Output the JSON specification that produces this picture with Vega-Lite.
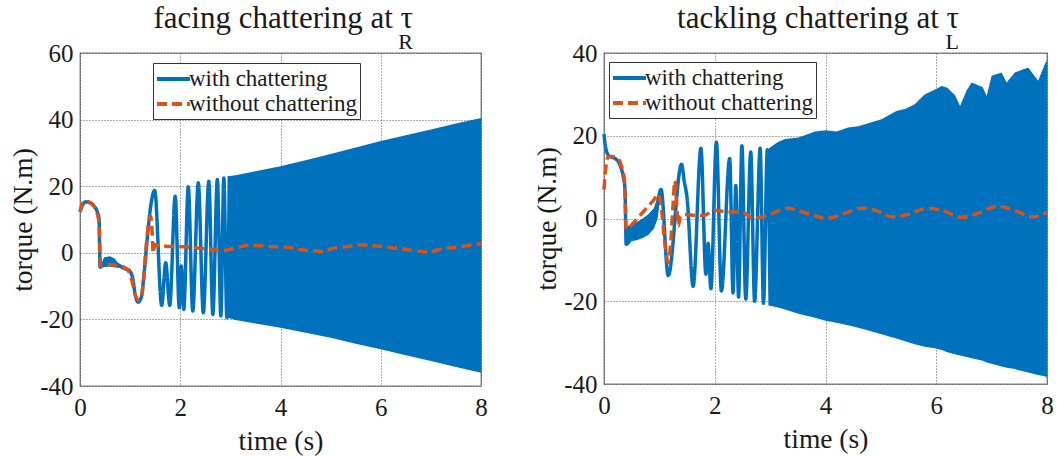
{
  "$schema": "https://vega.github.io/schema/vega-lite/v6.json",
  "padding": {"left": 9, "top": 2, "right": 5, "bottom": 0},
  "background": "white",
  "spacing": 123,
  "bounds": "flush",
  "datasets": {
    "Llines": [
      {"t":0,"v":12.3,"s":"with chattering"},{"t":0.05,"v":14.3,"s":"with chattering"},{"t":0.12,"v":15.3,"s":"with chattering"},{"t":0.2,"v":15,"s":"with chattering"},{"t":0.28,"v":14,"s":"with chattering"},{"t":0.34,"v":12.5,"s":"with chattering"},{"t":0.38,"v":10,"s":"with chattering"},{"t":0.4,"v":-4.3,"s":"with chattering"},{"t":0.5,"v":-2.8,"s":"with chattering"},{"t":0.6,"v":-2.6,"s":"with chattering"},{"t":0.7,"v":-3,"s":"with chattering"},{"t":0.8,"v":-4,"s":"with chattering"},{"t":0.9,"v":-4.8,"s":"with chattering"},{"t":0.98,"v":-5.3,"s":"with chattering"},{"t":1.05,"v":-7.5,"s":"with chattering"},{"t":1.1,"v":-12.5,"s":"with chattering"},{"t":1.16,"v":-14.8,"s":"with chattering"},{"t":1.22,"v":-13.5,"s":"with chattering"},{"t":1.28,"v":-6,"s":"with chattering"},{"t":1.34,"v":4,"s":"with chattering"},{"t":1.42,"v":15,"s":"with chattering"},{"t":1.49,"v":18.7,"s":"with chattering"},{"t":1.63,"v":-15.8,"s":"with chattering"},{"t":1.71,"v":-3,"s":"with chattering"},{"t":1.79,"v":-15.8,"s":"with chattering"},{"t":1.9,"v":17,"s":"with chattering"},{"t":1.98,"v":-16.5,"s":"with chattering"},{"t":2.02,"v":-4,"s":"with chattering"},{"t":2.07,"v":-17,"s":"with chattering"},{"t":2.16,"v":19.8,"s":"with chattering"},{"t":2.25,"v":-17.5,"s":"with chattering"},{"t":2.36,"v":21,"s":"with chattering"},{"t":2.46,"v":-18,"s":"with chattering"},{"t":2.57,"v":21.5,"s":"with chattering"},{"t":2.65,"v":-18.5,"s":"with chattering"},{"t":2.74,"v":22,"s":"with chattering"},{"t":2.81,"v":-19,"s":"with chattering"},{"t":2.87,"v":22.5,"s":"with chattering"},{"t":2.93,"v":-19.5,"s":"with chattering"},{"t":2.98,"v":23,"s":"with chattering"},
      {"t":0,"v":12.3,"s":"without chattering"},{"t":0.05,"v":14.8,"s":"without chattering"},{"t":0.12,"v":15.5,"s":"without chattering"},{"t":0.2,"v":15.1,"s":"without chattering"},{"t":0.28,"v":14,"s":"without chattering"},{"t":0.34,"v":12,"s":"without chattering"},{"t":0.38,"v":9,"s":"without chattering"},{"t":0.41,"v":-3.8,"s":"without chattering"},{"t":0.5,"v":-3.5,"s":"without chattering"},{"t":0.6,"v":-3.5,"s":"without chattering"},{"t":0.7,"v":-3.7,"s":"without chattering"},{"t":0.8,"v":-4,"s":"without chattering"},{"t":0.9,"v":-4.5,"s":"without chattering"},{"t":0.97,"v":-5.5,"s":"without chattering"},{"t":1.03,"v":-8,"s":"without chattering"},{"t":1.1,"v":-12.5,"s":"without chattering"},{"t":1.17,"v":-14.2,"s":"without chattering"},{"t":1.22,"v":-13.5,"s":"without chattering"},{"t":1.27,"v":-8,"s":"without chattering"},{"t":1.31,"v":0,"s":"without chattering"},{"t":1.36,"v":8,"s":"without chattering"},{"t":1.41,"v":11,"s":"without chattering"},{"t":1.44,"v":6,"s":"without chattering"},{"t":1.46,"v":0,"s":"without chattering"},{"t":1.49,"v":2.5,"s":"without chattering"},{"t":1.55,"v":2.2,"s":"without chattering"},{"t":1.7,"v":2,"s":"without chattering"},{"t":1.9,"v":1.9,"s":"without chattering"},{"t":2.1,"v":1.8,"s":"without chattering"},{"t":2.3,"v":1.5,"s":"without chattering"},{"t":2.5,"v":1.2,"s":"without chattering"},{"t":2.68,"v":0.9,"s":"without chattering"},{"t":2.81,"v":0.6,"s":"without chattering"},{"t":3.07,"v":1.3,"s":"without chattering"},{"t":3.34,"v":2.2,"s":"without chattering"},{"t":3.61,"v":2.1,"s":"without chattering"},{"t":3.87,"v":1.8,"s":"without chattering"},{"t":4.14,"v":1.7,"s":"without chattering"},{"t":4.41,"v":0.9,"s":"without chattering"},{"t":4.67,"v":0.6,"s":"without chattering"},{"t":4.81,"v":0.4,"s":"without chattering"},{"t":5.07,"v":1.4,"s":"without chattering"},{"t":5.34,"v":1.9,"s":"without chattering"},{"t":5.6,"v":2.4,"s":"without chattering"},{"t":5.87,"v":2.1,"s":"without chattering"},{"t":6.14,"v":1.7,"s":"without chattering"},{"t":6.4,"v":1.2,"s":"without chattering"},{"t":6.67,"v":0.7,"s":"without chattering"},{"t":6.94,"v":0.2,"s":"without chattering"},{"t":7.2,"v":1.1,"s":"without chattering"},{"t":7.47,"v":1.6,"s":"without chattering"},{"t":7.73,"v":2.2,"s":"without chattering"},{"t":8,"v":2.7,"s":"without chattering"}
    ],
    "Lband": [
      {"seg":"a","t":0.42,"lo":-4.5,"hi":-3.5},{"seg":"a","t":0.48,"lo":-4.3,"hi":-1.3},{"seg":"a","t":0.6,"lo":-4.2,"hi":-1},{"seg":"a","t":0.7,"lo":-4.4,"hi":-1.8},{"seg":"a","t":0.78,"lo":-4.6,"hi":-3.8},
      {"seg":"b","t":2.95,"lo":-19.5,"hi":23},{"seg":"b","t":3.1,"lo":-20.2,"hi":23.3},{"seg":"b","t":3.5,"lo":-21.2,"hi":24.5},{"seg":"b","t":4,"lo":-22.5,"hi":26},{"seg":"b","t":4.5,"lo":-24,"hi":27.8},{"seg":"b","t":5,"lo":-25.5,"hi":29.7},{"seg":"b","t":5.5,"lo":-27.3,"hi":31.6},{"seg":"b","t":6,"lo":-29,"hi":33.6},{"seg":"b","t":6.5,"lo":-30.8,"hi":35.3},{"seg":"b","t":7,"lo":-32.5,"hi":37},{"seg":"b","t":7.5,"lo":-34.3,"hi":38.8},{"seg":"b","t":8,"lo":-36,"hi":40.5}
    ],
    "Rlines": [
      {"t":0,"v":20.4,"s":"with chattering"},{"t":0.04,"v":16.5,"s":"with chattering"},{"t":0.1,"v":15,"s":"with chattering"},{"t":0.2,"v":14.5,"s":"with chattering"},{"t":0.3,"v":12.5,"s":"with chattering"},{"t":0.35,"v":10,"s":"with chattering"},{"t":0.38,"v":7,"s":"with chattering"},{"t":0.4,"v":-6.2,"s":"with chattering"},{"t":0.55,"v":-3.5,"s":"with chattering"},{"t":0.7,"v":-2.3,"s":"with chattering"},{"t":0.85,"v":-0.3,"s":"with chattering"},{"t":0.95,"v":3,"s":"with chattering"},{"t":1.03,"v":7,"s":"with chattering"},{"t":1.16,"v":-13.8,"s":"with chattering"},{"t":1.4,"v":13.1,"s":"with chattering"},{"t":1.45,"v":9,"s":"with chattering"},{"t":1.5,"v":5,"s":"with chattering"},{"t":1.61,"v":-16.4,"s":"with chattering"},{"t":1.75,"v":17,"s":"with chattering"},{"t":1.84,"v":-13.5,"s":"with chattering"},{"t":1.88,"v":-6,"s":"with chattering"},{"t":1.93,"v":-17,"s":"with chattering"},{"t":2.03,"v":18.4,"s":"with chattering"},{"t":2.12,"v":-17.5,"s":"with chattering"},{"t":2.27,"v":14.5,"s":"with chattering"},{"t":2.33,"v":-18,"s":"with chattering"},{"t":2.38,"v":8,"s":"with chattering"},{"t":2.43,"v":-19,"s":"with chattering"},{"t":2.49,"v":17.6,"s":"with chattering"},{"t":2.56,"v":-19.5,"s":"with chattering"},{"t":2.65,"v":16.1,"s":"with chattering"},{"t":2.72,"v":-20,"s":"with chattering"},{"t":2.82,"v":17,"s":"with chattering"},{"t":2.88,"v":-20.5,"s":"with chattering"},{"t":2.95,"v":16.6,"s":"with chattering"},{"t":3.0,"v":-21,"s":"with chattering"},
      {"t":0,"v":7,"s":"without chattering"},{"t":0.03,"v":12,"s":"without chattering"},{"t":0.08,"v":15,"s":"without chattering"},{"t":0.15,"v":15,"s":"without chattering"},{"t":0.25,"v":14.5,"s":"without chattering"},{"t":0.32,"v":12.5,"s":"without chattering"},{"t":0.37,"v":9,"s":"without chattering"},{"t":0.4,"v":-2.6,"s":"without chattering"},{"t":0.5,"v":-1.5,"s":"without chattering"},{"t":0.6,"v":0,"s":"without chattering"},{"t":0.7,"v":1.5,"s":"without chattering"},{"t":0.8,"v":3,"s":"without chattering"},{"t":0.9,"v":4.5,"s":"without chattering"},{"t":0.98,"v":5.9,"s":"without chattering"},{"t":1.04,"v":2,"s":"without chattering"},{"t":1.1,"v":-6,"s":"without chattering"},{"t":1.16,"v":-10.6,"s":"without chattering"},{"t":1.21,"v":-5,"s":"without chattering"},{"t":1.25,"v":4,"s":"without chattering"},{"t":1.28,"v":9.1,"s":"without chattering"},{"t":1.31,"v":4,"s":"without chattering"},{"t":1.34,"v":-1.8,"s":"without chattering"},{"t":1.38,"v":0.5,"s":"without chattering"},{"t":1.45,"v":1,"s":"without chattering"},{"t":1.6,"v":0.8,"s":"without chattering"},{"t":1.8,"v":0.7,"s":"without chattering"},{"t":2.0,"v":2,"s":"without chattering"},{"t":2.2,"v":1.6,"s":"without chattering"},{"t":2.5,"v":1.5,"s":"without chattering"},{"t":2.7,"v":0,"s":"without chattering"},{"t":3.0,"v":1,"s":"without chattering"},{"t":3.3,"v":2.5,"s":"without chattering"},{"t":3.6,"v":1.5,"s":"without chattering"},{"t":3.85,"v":0.5,"s":"without chattering"},{"t":4.0,"v":0,"s":"without chattering"},{"t":4.3,"v":1,"s":"without chattering"},{"t":4.65,"v":2.5,"s":"without chattering"},{"t":5.0,"v":1.5,"s":"without chattering"},{"t":5.2,"v":0.4,"s":"without chattering"},{"t":5.5,"v":1,"s":"without chattering"},{"t":5.85,"v":2.5,"s":"without chattering"},{"t":6.1,"v":2,"s":"without chattering"},{"t":6.45,"v":0.3,"s":"without chattering"},{"t":6.8,"v":1.5,"s":"without chattering"},{"t":7.1,"v":3,"s":"without chattering"},{"t":7.4,"v":2,"s":"without chattering"},{"t":7.75,"v":0.4,"s":"without chattering"},{"t":8.0,"v":1.5,"s":"without chattering"}
    ],
    "Rband": [
      {"seg":"a","t":0.4,"lo":-6.2,"hi":-2},{"seg":"a","t":0.5,"lo":-5.5,"hi":-1.5},{"seg":"a","t":0.6,"lo":-5.2,"hi":-0.8},{"seg":"a","t":0.7,"lo":-4.7,"hi":0},{"seg":"a","t":0.8,"lo":-4,"hi":1},{"seg":"a","t":0.9,"lo":-2.5,"hi":2.5},{"seg":"a","t":0.97,"lo":0,"hi":5},{"seg":"a","t":1.02,"lo":5.5,"hi":7},
      {"seg":"b","t":2.98,"lo":-21,"hi":17},{"seg":"b","t":3.14,"lo":-21.5,"hi":18.5},{"seg":"b","t":3.27,"lo":-22,"hi":19.2},{"seg":"b","t":3.51,"lo":-23,"hi":19.6},{"seg":"b","t":3.81,"lo":-24,"hi":21},{"seg":"b","t":4.0,"lo":-24.7,"hi":21.3},{"seg":"b","t":4.2,"lo":-25.2,"hi":21},{"seg":"b","t":4.41,"lo":-25.8,"hi":22},{"seg":"b","t":4.59,"lo":-26.4,"hi":22.3},{"seg":"b","t":4.71,"lo":-26.8,"hi":22.8},{"seg":"b","t":5.01,"lo":-28,"hi":24},{"seg":"b","t":5.15,"lo":-28.5,"hi":25},{"seg":"b","t":5.28,"lo":-29,"hi":26},{"seg":"b","t":5.45,"lo":-29.7,"hi":26.5},{"seg":"b","t":5.61,"lo":-30.4,"hi":27.6},{"seg":"b","t":5.79,"lo":-31,"hi":30},{"seg":"b","t":5.95,"lo":-31.3,"hi":31},{"seg":"b","t":6.1,"lo":-31.8,"hi":32},{"seg":"b","t":6.2,"lo":-32.3,"hi":31.6},{"seg":"b","t":6.34,"lo":-32.8,"hi":29.8},{"seg":"b","t":6.43,"lo":-33.1,"hi":27.2},{"seg":"b","t":6.55,"lo":-33.5,"hi":31},{"seg":"b","t":6.64,"lo":-33.8,"hi":32.9},{"seg":"b","t":6.84,"lo":-34.4,"hi":31.7},{"seg":"b","t":6.91,"lo":-34.8,"hi":29.6},{"seg":"b","t":7.0,"lo":-35.1,"hi":34.5},{"seg":"b","t":7.18,"lo":-35.8,"hi":35.3},{"seg":"b","t":7.27,"lo":-36.1,"hi":32.9},{"seg":"b","t":7.42,"lo":-36.4,"hi":35.3},{"seg":"b","t":7.66,"lo":-37.2,"hi":36.5},{"seg":"b","t":7.84,"lo":-37.8,"hi":33.3},{"seg":"b","t":7.96,"lo":-38.1,"hi":37.3},{"seg":"b","t":8.0,"lo":-38.4,"hi":38.3}
    ]
  },
  "resolve": {
    "scale": {"color": "independent", "strokeDash": "independent", "x": "independent", "y": "independent"},
    "legend": {"color": "independent", "strokeDash": "independent"}
  },
  "hconcat": [
    {
      "width": 401,
      "height": 333,
      "title": {"text": "facing chattering at τ  ", "subtitle": "R", "anchor": "end", "dx": -68},
      "layer": [
        {
          "data": {"name": "Lband"},
          "mark": {"type": "area", "color": "#0072BD", "opacity": 1},
          "encoding": {
            "x": {"field": "t", "type": "quantitative", "scale": {"domain": [0, 8], "nice": false}, "axis": {"values": [0, 2, 4, 6, 8], "title": "time (s)", "format": "d"}},
            "y": {"field": "lo", "type": "quantitative", "scale": {"domain": [-40, 60], "nice": false}, "axis": {"values": [-40, -20, 0, 20, 40, 60], "title": "torque (N.m)", "labelExpr": "datum.value < 0 ? '-' + abs(datum.value) : '' + datum.value"}},
            "y2": {"field": "hi"},
            "detail": {"field": "seg", "type": "nominal"}
          }
        },
        {
          "data": {"name": "Llines"},
          "mark": {"type": "line", "strokeWidth": 3.5, "interpolate": "monotone"},
          "encoding": {
            "x": {"field": "t", "type": "quantitative", "scale": {"domain": [0, 8], "nice": false}, "axis": {"values": [0, 2, 4, 6, 8], "title": "time (s)", "format": "d"}},
            "y": {"field": "v", "type": "quantitative", "scale": {"domain": [-40, 60], "nice": false}, "axis": {"values": [-40, -20, 0, 20, 40, 60], "title": "torque (N.m)", "labelExpr": "datum.value < 0 ? '-' + abs(datum.value) : '' + datum.value"}},
            "color": {"field": "s", "type": "nominal", "scale": {"domain": ["with chattering", "without chattering"], "range": ["#0072BD", "#D95319"]}, "legend": {"orient": "none", "legendX": 73, "legendY": 10}},
            "strokeDash": {"field": "s", "type": "nominal", "scale": {"domain": ["with chattering", "without chattering"], "range": [[1, 0], [10, 5]]}, "legend": {"orient": "none", "legendX": 73, "legendY": 10}}
          }
        }
      ]
    },
    {
      "width": 443,
      "height": 331,
      "title": {"text": "tackling chattering at τ  ", "subtitle": "L", "anchor": "end", "dx": -88},
      "layer": [
        {
          "data": {"name": "Rband"},
          "mark": {"type": "area", "color": "#0072BD", "opacity": 1},
          "encoding": {
            "x": {"field": "t", "type": "quantitative", "scale": {"domain": [0, 8], "nice": false}, "axis": {"values": [0, 2, 4, 6, 8], "title": "time (s)", "format": "d"}},
            "y": {"field": "lo", "type": "quantitative", "scale": {"domain": [-40, 40], "nice": false}, "axis": {"values": [-40, -20, 0, 20, 40], "title": "torque (N.m)", "labelExpr": "datum.value < 0 ? '-' + abs(datum.value) : '' + datum.value"}},
            "y2": {"field": "hi"},
            "detail": {"field": "seg", "type": "nominal"}
          }
        },
        {
          "data": {"name": "Rlines"},
          "mark": {"type": "line", "strokeWidth": 3.5, "interpolate": "monotone"},
          "encoding": {
            "x": {"field": "t", "type": "quantitative", "scale": {"domain": [0, 8], "nice": false}, "axis": {"values": [0, 2, 4, 6, 8], "title": "time (s)", "format": "d"}},
            "y": {"field": "v", "type": "quantitative", "scale": {"domain": [-40, 40], "nice": false}, "axis": {"values": [-40, -20, 0, 20, 40], "title": "torque (N.m)", "labelExpr": "datum.value < 0 ? '-' + abs(datum.value) : '' + datum.value"}},
            "color": {"field": "s", "type": "nominal", "scale": {"domain": ["with chattering", "without chattering"], "range": ["#0072BD", "#D95319"]}, "legend": {"orient": "none", "legendX": 5, "legendY": 9}},
            "strokeDash": {"field": "s", "type": "nominal", "scale": {"domain": ["with chattering", "without chattering"], "range": [[1, 0], [10, 5]]}, "legend": {"orient": "none", "legendX": 5, "legendY": 9}}
          }
        }
      ]
    }
  ],
  "config": {
    "font": "Liberation Serif",
    "view": {"stroke": "#808080", "strokeWidth": 1.3},
    "axis": {
      "labelFont": "Liberation Serif", "labelFontSize": 25, "labelColor": "#1a1a1a", "labelFlush": false,
      "titleFont": "Liberation Serif", "titleFontSize": 27.5, "titleFontWeight": "normal", "titleColor": "#1a1a1a",
      "domain": false, "ticks": false, "tickSize": 0,
      "grid": true, "gridDash": [1, 2], "gridColor": "#333333", "gridOpacity": 0.8, "gridWidth": 1
    },
    "axisX": {"labelPadding": 9, "titlePadding": 7},
    "axisY": {"labelPadding": 7, "titlePadding": 2},
    "title": {"font": "Liberation Serif", "fontSize": 31, "fontWeight": "normal", "color": "#1a1a1a", "offset": -13, "subtitleFont": "Liberation Serif", "subtitleFontSize": 22, "subtitleColor": "#1a1a1a", "subtitlePadding": -3, "frame": "group"},
    "legend": {
      "title": null, "labelFont": "Liberation Serif", "labelFontSize": 23, "labelColor": "#1a1a1a",
      "symbolType": "M-1.5,0H1.5", "symbolSize": 484, "symbolStrokeWidth": 4, "symbolOffset": 4.5, "labelOffset": 2.5,
      "strokeColor": "#333333", "fillColor": "white", "padding": 3, "rowPadding": 0, "labelLimit": 300
    }
  }
}
